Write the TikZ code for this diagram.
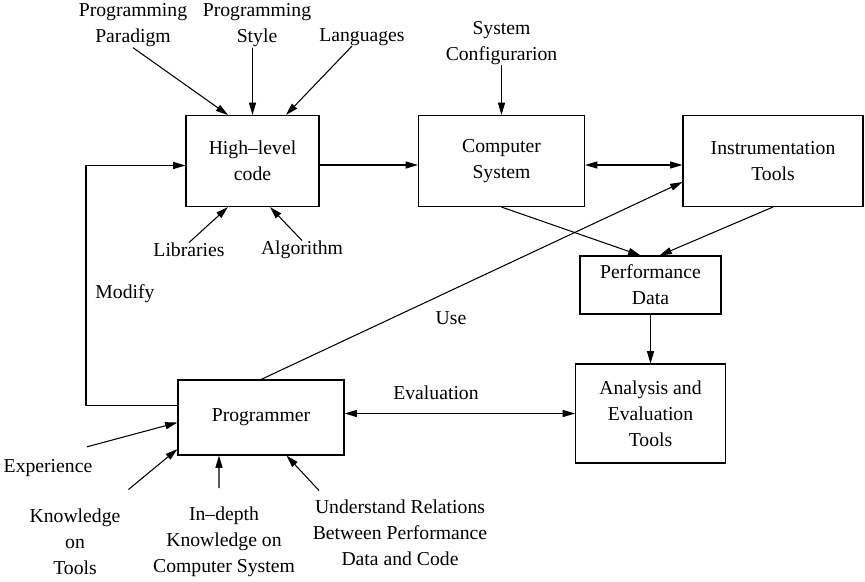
\documentclass[tikz,border=0pt]{standalone}
\usepackage{fontspec}
\setmainfont{Liberation Serif}
\usetikzlibrary{arrows.meta}

\begin{document}
\begin{tikzpicture}[>={Triangle[length=7pt,width=4pt]}, line width=0.6pt,
    every node/.style={font=\fontsize{11.2}{14.8}\selectfont},
    blk/.style={draw, align=center, inner sep=0pt},
    lbl/.style={align=center, inner sep=0pt}]
      \useasboundingbox (0,0) rectangle (17.3,11.62);
      % boxes
      \node[blk, minimum width=2.66cm, minimum height=1.82cm] (code) at (5.05,8.40) {High--level\\code};
      \node[blk, minimum width=3.32cm, minimum height=1.82cm] (comp) at (10.03,8.40) {Computer\\System};
      \node[blk, minimum width=3.6cm, minimum height=1.82cm] (instr) at (15.46,8.40) {Instrumentation\\Tools};
      \node[blk, minimum width=2.82cm, minimum height=1.16cm] (perf) at (13.01,5.92) {Performance\\Data};
      \node[blk, minimum width=3.0cm, minimum height=1.98cm] (anal) at (13.01,3.35) {Analysis and\\Evaluation\\Tools};
      \node[blk, minimum width=3.32cm, minimum height=1.5cm] (prog) at (5.22,3.27) {Programmer};
      % inputs
      \node[lbl] (paradigm) at (2.66,11.11) {Programming\\Paradigm};
      \node[lbl] (style) at (5.14,11.11) {Programming\\Style};
      \node[lbl] (lang) at (7.24,10.88) {Languages};
      \node[lbl] (sysconf) at (10.03,10.76) {System\\Configurarion};
      \node[lbl] (libs) at (3.78,6.62) {Libraries};
      \node[lbl] (algo) at (6.04,6.62) {Algorithm};
      \node[lbl] (exper) at (0.96,2.25) {Experience};
      \node[lbl] (knowtools) at (1.5,0.78) {Knowledge\\on\\Tools};
      \node[lbl] (indepth) at (4.48,0.78) {In--depth\\Knowledge on\\Computer System};
      \node[lbl] (underst) at (8.0,0.96) {Understand Relations\\Between Performance\\Data and Code};
      \node[lbl] (modify) at (2.5,5.75) {Modify};
      \node[lbl] (use) at (9.02,5.25) {Use};
      \node[lbl] (eval) at (8.72,3.76) {Evaluation};
      % connectors
      \draw[->] (paradigm.south) -- ([xshift=-0.49cm]code.north);
      \draw[->] (code.north |- style.south) -- (code.north);
      \draw[->] ([xshift=-0.2cm]lang.south) -- ([xshift=0.67cm]code.north);
      \draw[->] (sysconf.south) -- (comp.north);
      \draw[->] (libs.north) -- ([xshift=-0.49cm]code.south);
      \draw[->] (algo.north) -- ([xshift=0.35cm]code.south);
      \draw[->] ([yshift=0.24cm]prog.west) -- ++(-1.83,0) |- ([yshift=-0.09cm]code.west);
      \draw[->] ([yshift=-0.08cm]code.east) -- ([yshift=-0.08cm]comp.west);
      \draw[<->] ([yshift=-0.08cm]comp.east) -- ([yshift=-0.08cm]instr.west);
      \draw[->] (comp.south) -- ([xshift=-0.2cm]perf.north);
      \draw[->] (instr.south) -- ([xshift=0.18cm]perf.north);
      \draw[->] (perf.south) -- (anal.north);
      \draw[->] (prog.north) -- ([yshift=-0.42cm]instr.west);
      \draw[<->] (prog.east |- anal.west) -- (anal.west);
      \draw[->] ([shift={(-0.12,0.25)}]exper.north east) -- ([yshift=-0.1cm]prog.west);
      \draw[->] ([shift={(0.15,0.38)}]knowtools.north east) -- ([yshift=0.13cm]prog.south west);
      \draw[->] ([shift={(-0.1,0.37)}]indepth.north) -- ([xshift=-0.84cm]prog.south);
      \draw[->] ([shift={(-1.62,0.18)}]underst.north) -- ([xshift=0.51cm]prog.south);
    \end{tikzpicture}
\end{document}
